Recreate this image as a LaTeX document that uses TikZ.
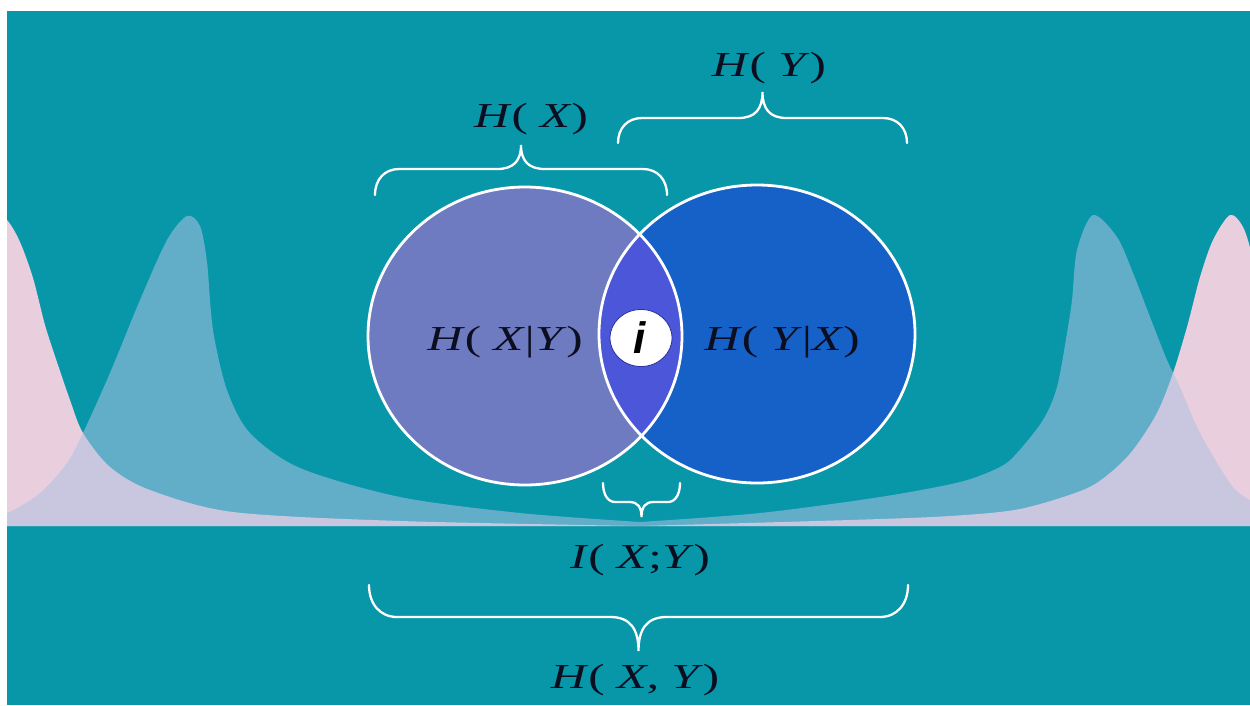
\documentclass[tikz,border=0pt]{standalone}
\usepackage{fontspec}
\usetikzlibrary{shapes.geometric}
\setmainfont{Liberation Serif}
\newfontfamily\isans{Liberation Sans}
\definecolor{teal1}{HTML}{0797A9}
\definecolor{pinkc}{HTML}{E9CFDD}
\definecolor{bluec}{RGB}{173,193,226}
\definecolor{leftc}{HTML}{6E7BC0}
\definecolor{rightc}{HTML}{1561C8}
\definecolor{lensc}{HTML}{4B56D9}
\definecolor{txt}{HTML}{0B0E20}
\definecolor{iring}{HTML}{2E2E9E}
\newcommand{\drawbrace}[6]{%
  \pgfmathsetmacro\bxm{(#1+#2)/2}%
  \draw[bracesty] (#1,#3) .. controls (#1,{#3+0.6*(#4-#3)}) and ({#1+0.4*#6},#4) .. ({#1+#6},#4)
    -- ({\bxm-#6},#4) .. controls ({\bxm-0.3*#6},#4) and (\bxm,{#4+0.35*(#5-#4)}) .. (\bxm,#5)
    .. controls (\bxm,{#4+0.35*(#5-#4)}) and ({\bxm+0.3*#6},#4) .. ({\bxm+#6},#4)
    -- ({#2-#6},#4) .. controls ({#2-0.4*#6},#4) and (#2,{#3+0.6*(#4-#3)}) .. (#2,#3);
}
\newcommand{\lbl}[1]{\scalebox{1.4}[1]{#1}}
\begin{document}
\begin{tikzpicture}[x={(1pt,0pt)},y={(0pt,-1pt)},
  bracesty/.style={draw=white, line width=2.3pt, line cap=round},
  labelsty/.style={font=\fontsize{35}{40}\selectfont, text=txt, inner sep=0pt, anchor=base},
  ringsty/.style={draw=white, line width=2.8pt}]
\useasboundingbox (0,0) rectangle (1250,705);
\fill[white] (0,0) rectangle (1250,705);
\fill[teal1] (7,11) rectangle (1250,705);
\begin{scope}
\clip (7,11) rectangle (1250,705);
% pink curves
\fill[pinkc] plot[smooth, tension=0.5] coordinates {(-40,196) (-15,202) (7,220) (20,242) (33,278) (45,325) (57,362) (70,400) (83,433) (110,467) (150,490) (233,512) (400,521) (640,526)} -- (-40,526) -- cycle;
\fill[pinkc] plot[smooth, tension=0.5] coordinates {(640,526) (850,520) (950,516) (1020,509) (1083,490) (1110,473) (1133,450) (1157,413) (1173,373) (1187,327) (1200,277) (1213,240) (1230,215) (1243,227) (1252,255) (1262,300)} -- (1262,526) -- cycle;
% blue curves
\fill[bluec, opacity=0.55] plot[smooth, tension=0.5] coordinates {(-30,520) (7,513) (40,493) (67,463) (83,433) (110,373) (140,300) (167,240) (187,216) (200,226) (207,262) (213,330) (227,390) (250,433) (300,468) (400,497) (520,513) (640,522)} -- (640,526) -- (-30,526) -- cycle;
\fill[bluec, opacity=0.55] plot[smooth, tension=0.5] coordinates {(640,522) (760,513) (880,497) (960,482) (1000,467) (1017,453) (1043,420) (1057,387) (1067,333) (1072,300) (1077,250) (1093,215) (1117,237) (1133,273) (1150,317) (1167,360) (1180,387) (1200,433) (1233,487) (1260,505) (1290,515)} -- (1290,526) -- (640,526) -- cycle;
\end{scope}
% circles
\fill[leftc] (525,336) ellipse [x radius=157, y radius=149];
\fill[rightc] (757,334) ellipse [x radius=158, y radius=149];
\begin{scope}
\clip (525,336) ellipse [x radius=157, y radius=149];
\fill[lensc] (757,334) ellipse [x radius=158, y radius=149];
\end{scope}
\draw[ringsty] (525,336) ellipse [x radius=157, y radius=149];
\draw[ringsty] (757,334) ellipse [x radius=158, y radius=149];
% info badge
\node[ellipse, minimum width=62pt, minimum height=57pt, inner sep=0pt, fill=white, draw=iring, line width=0.8pt] (badge) at (641,338) {};
\node[font=\isans\bfseries\itshape\fontsize{44}{48}\selectfont, text=black, inner sep=0pt] (ilet) at (640,338) {i};
% braces
\drawbrace{375}{667}{195}{169}{145}{24}
\drawbrace{618}{907}{143}{118}{92}{24}
\drawbrace{603}{680}{483}{502}{517}{12}
\drawbrace{369}{908}{585}{617}{651}{28}
% labels
\node[labelsty] (hx) at (531,127) {\lbl{\textit{H}( \textit{X})}};
\node[labelsty] (hy) at (769,76) {\lbl{\textit{H}( \textit{Y})}};
\node[labelsty] (hxy) at (505,350) {\lbl{\textit{H}( \textit{X}|\textit{Y})}};
\node[labelsty] (hyx) at (782,350) {\lbl{\textit{H}( \textit{Y}|\textit{X})}};
\node[labelsty] (ixy) at (640,568) {\lbl{\textit{I}( \textit{X};\textit{Y})}};
\node[labelsty] (hjoint) at (635,688) {\lbl{\textit{H}( \textit{X}, \textit{Y})}};
\end{tikzpicture}
\end{document}
